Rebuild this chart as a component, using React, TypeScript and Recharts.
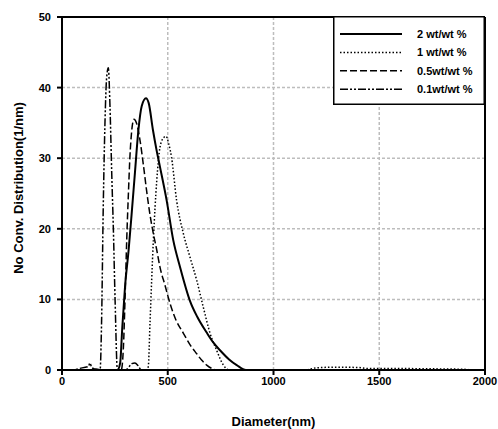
import React from 'react';
import {
  CartesianGrid,
  Legend,
  Line,
  LineChart,
  ReferenceLine,
  XAxis,
  YAxis,
} from 'recharts';

// diameters (nm) and number distribution (1/nm)
const d2 = [0, 100, 200, 262, 275, 285, 298, 315, 329, 345, 361, 377, 397, 410, 430, 448, 463, 495, 526, 558, 605, 640, 684, 715, 747, 790, 826, 870, 1000, 1500, 2000];
const v2 = [0, 0, 0, 0, 1, 6, 11.8, 17, 22, 28, 33.9, 37.4, 38.5, 37.8, 34, 31, 28.8, 24, 18.4, 14.6, 9.8, 7.5, 5.3, 3.9, 2.8, 1.5, 0.7, 0, 0, 0, 0];

const d1 = [0, 400, 408, 416, 432, 448, 463, 478, 492, 505, 518, 542, 574, 605, 637, 668, 700, 731, 763, 790, 1000, 1150, 1200, 1300, 1400, 1450, 1600, 1800, 1900, 1950, 2000];
const v1 = [0, 0, 0.5, 6.6, 18.4, 26.8, 31.5, 32.8, 33.1, 32, 30.1, 24, 19.3, 16, 12.7, 8.9, 5.2, 2.8, 0.7, 0, 0, 0, 0.3, 0.4, 0.35, 0.2, 0.2, 0.15, 0.1, 0, 0];

const d05 = [0, 280, 290, 298, 306, 314, 321, 330, 340, 352, 369, 385, 400, 416, 432, 448, 463, 487, 511, 540, 574, 605, 637, 660, 684, 710, 740, 1000, 2000];
const v05 = [0, 0, 3, 10, 18.4, 25, 30.1, 34, 35.5, 35, 32.5, 29, 25.4, 22, 19.3, 17, 14.6, 12, 9.4, 7, 5.2, 3.6, 2.3, 1.4, 0.7, 0.2, 0, 0, 0];

const d01 = [0, 50, 80, 110, 125, 132, 140, 150, 170, 180, 187, 195, 203, 211, 219, 227, 235, 243, 251, 262, 275, 300, 318, 330, 345, 360, 375, 400, 2000];
const v01 = [0, 0, 0.2, 0.4, 0.5, 1, 0.4, 0.2, 0.1, 0, 6.6, 23, 34.8, 41.4, 42.8, 37.2, 28, 19.8, 9.9, 0, 0, 0, 0.5, 0.9, 1, 0.6, 0, 0, 0];

const xTicks = [0, 500, 1000, 1500, 2000];
const yTicks = [0, 10, 20, 30, 40, 50];

const seriesNames = ['2 wt/wt %', '1 wt/wt %', '0.5wt/wt %', '0.1wt/wt %'];
const dashes = ['', '1.5 2', '7 3', '8 2 2 2 2 2'];
const widths = [2, 1.5, 1.5, 1.5];

const toPoints = (d: number[], v: number[]) => d.map((x, i) => ({ d: x, v: v[i] }));
const seriesData = [toPoints(d2, v2), toPoints(d1, v1), toPoints(d05, v05), toPoints(d01, v01)];

const font = '"Liberation Sans", Arial, sans-serif';

const LegendBox = () => (
  <svg width={152} height={89} style={{ display: 'block' }}>
    <rect x={0.75} y={0.75} width={150.5} height={87.5} fill="#fff" stroke="#000" strokeWidth={1.5} />
    {seriesNames.map((name, i) => {
      const y = 18 + i * 18.4;
      return (
        <g key={name}>
          <line x1={7} x2={69} y1={y} y2={y} stroke="#000" strokeWidth={widths[i]} strokeDasharray={dashes[i] || undefined} />
          <text x={84} y={y} dominantBaseline="central" fontSize={11} fontWeight="bold" fontFamily={font} fill="#000">
            {name}
          </text>
        </g>
      );
    })}
  </svg>
);

export default function App() {
  return (
    <div style={{ position: 'absolute', left: 0, top: 0 }}>
      <LineChart width={498} height={429} margin={{ top: 17, right: 13, left: 0, bottom: 0 }}>
        <CartesianGrid stroke="#bdbdbd" strokeDasharray="3 2" strokeWidth={1.5} />
        <XAxis
          type="number"
          dataKey="d"
          domain={[0, 2000]}
          ticks={xTicks}
          height={59}
          axisLine={{ stroke: '#000', strokeWidth: 2 }}
          tickLine={{ stroke: '#000', strokeWidth: 2 }}
          tickSize={5}
          tick={{ fill: '#000', fontSize: 11, fontWeight: 'bold', fontFamily: font }}
          label={{
            value: 'Diameter(nm)',
            position: 'insideBottom',
            offset: 3,
            fill: '#000',
            fontSize: 13,
            fontWeight: 'bold',
            fontFamily: font,
          }}
        />
        <YAxis
          type="number"
          domain={[0, 50]}
          ticks={yTicks}
          width={62}
          axisLine={{ stroke: '#000', strokeWidth: 2 }}
          tickLine={{ stroke: '#000', strokeWidth: 2 }}
          tickSize={5}
          tickMargin={6}
          tick={{ fill: '#000', fontSize: 11, fontWeight: 'bold', fontFamily: font }}
          label={() => (
            <text
              x={18}
              y={188}
              transform="rotate(-90, 18, 188)"
              textAnchor="middle"
              dominantBaseline="central"
              fontSize={13}
              fontWeight="bold"
              fontFamily={font}
              fill="#000"
            >
              No Conv. Distribution(1/nm)
            </text>
          )}
        />
        <ReferenceLine y={50} stroke="#000" strokeWidth={2} />
        <ReferenceLine x={2000} stroke="#000" strokeWidth={2} />
        {seriesData.map((data, i) => (
          <Line
            key={seriesNames[i]}
            data={data}
            dataKey="v"
            name={seriesNames[i]}
            type="monotone"
            stroke="#000"
            strokeWidth={widths[i]}
            strokeDasharray={dashes[i] || undefined}
            dot={false}
            activeDot={false}
            isAnimationActive={false}
          />
        ))}
        <Legend
          layout="horizontal"
          verticalAlign="middle"
          align="center"
          width={152}
          height={89}
          wrapperStyle={{ left: 333, top: 16, width: 152, height: 89, margin: 0, padding: 0 }}
          content={() => <LegendBox />}
        />
      </LineChart>
    </div>
  );
}
